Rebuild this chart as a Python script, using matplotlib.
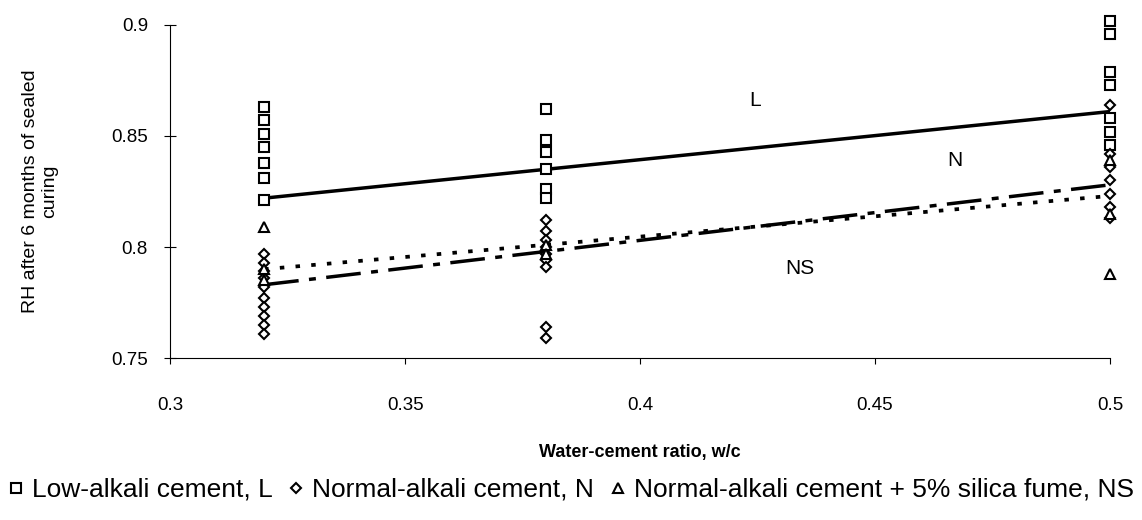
import matplotlib
matplotlib.use('Agg')
import matplotlib.pyplot as plt
import numpy as np

plt.rcParams['font.family'] = ['Liberation Sans', 'DejaVu Sans']

# measured RH values per water-cement ratio
wc_levels = [0.32, 0.38, 0.5]

low_alkali_L = {
    0.32: [0.863, 0.857, 0.851, 0.845, 0.838, 0.831, 0.821],
    0.38: [0.862, 0.848, 0.843, 0.835, 0.826, 0.822],
    0.5: [0.902, 0.896, 0.879, 0.873, 0.858, 0.852, 0.846],
}
normal_alkali_N = {
    0.32: [0.797, 0.793, 0.789, 0.786, 0.782, 0.777, 0.773, 0.769, 0.765, 0.761],
    0.38: [0.812, 0.807, 0.803, 0.800, 0.797, 0.794, 0.791, 0.764, 0.759],
    0.5: [0.864, 0.842, 0.836, 0.830, 0.824, 0.818, 0.813],
}
silica_fume_NS = {
    0.32: [0.809, 0.790, 0.785],
    0.38: [0.801, 0.797],
    0.5: [0.839, 0.815, 0.788],
}

# trend lines (value at w/c = 0.32 and 0.5)
trend_x = [0.32, 0.5]
trend_L = [0.822, 0.861]
trend_N = [0.783, 0.828]
trend_NS = [0.790, 0.823]

x_ticks = [0.3, 0.35, 0.4, 0.45, 0.5]
x_tick_labels = ['0.3', '0.35', '0.4', '0.45', '0.5']
y_ticks = [0.75, 0.8, 0.85, 0.9]
y_tick_labels = ['0.75', '0.8', '0.85', '0.9']


def flatten(groups):
    xs, ys = [], []
    for wc in wc_levels:
        xs += [wc] * len(groups[wc])
        ys += groups[wc]
    return np.array(xs), np.array(ys)


fig = plt.figure(figsize=(11.42, 5.2), dpi=100)
ax = fig.add_axes([0.149, 0.3115, 0.823, 0.6405])

mk = dict(linestyle='none', markerfacecolor='white', markeredgecolor='black',
          markeredgewidth=1.5, clip_on=False, zorder=3)
xs, ys = flatten(low_alkali_L)
hL, = ax.plot(xs, ys, marker='s', markersize=7, label='Low-alkali cement, L', **mk)
xs, ys = flatten(normal_alkali_N)
hN, = ax.plot(xs, ys, marker='D', markersize=5.5, label='Normal-alkali cement, N', **mk)
xs, ys = flatten(silica_fume_NS)
hNS, = ax.plot(xs, ys, marker='^', markersize=7, label='Normal-alkali cement + 5% silica fume, NS', **mk)

ax.plot(trend_x, trend_L, color='black', lw=2.5, solid_capstyle='butt')
ax.plot(trend_x, trend_N, color='black', lw=2.5, dashes=(10, 3, 2, 3))
ax.plot(trend_x, trend_NS, color='black', lw=2.7, dashes=(1.2, 3))

ax.text(0.4245, 0.866, 'L', fontsize=15, ha='center', va='center')
ax.text(0.467, 0.839, 'N', fontsize=15, ha='center', va='center')
ax.text(0.434, 0.7905, 'NS', fontsize=15, ha='center', va='center')

ax.set_xlim(0.3, 0.5)
ax.set_ylim(0.75, 0.9)
ax.set_xticks(x_ticks)
ax.set_xticklabels(x_tick_labels)
ax.set_yticks(y_ticks)
ax.set_yticklabels(y_tick_labels)
ax.spines['top'].set_visible(False)
ax.spines['right'].set_visible(False)
ax.tick_params(axis='x', direction='out', length=4, pad=24, labelsize=13.5)
ax.tick_params(axis='y', direction='inout', length=8, pad=12, labelsize=13.5)

ax.set_xlabel('Water-cement ratio, w/c', fontsize=13, fontweight='bold', labelpad=22)
ax.set_ylabel('RH after 6 months of sealed\ncuring', fontsize=14, labelpad=38)

fig.legend(handles=[hL, hN, hNS], loc='center', bbox_to_anchor=(0.5, 0.058), ncol=3,
           frameon=False, fontsize=19, handlelength=0.6, handletextpad=0.3,
           columnspacing=0.6, borderaxespad=0)

plt.savefig('out.png', dpi=100)
plt.close(fig)
